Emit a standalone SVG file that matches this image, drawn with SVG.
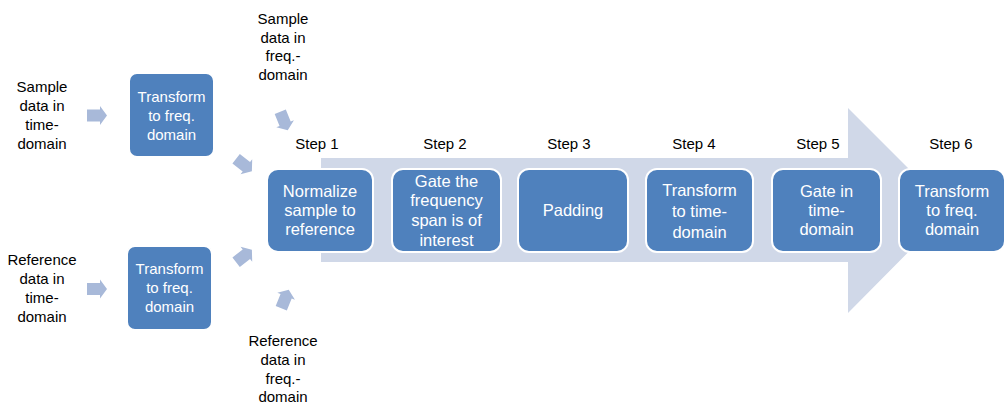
<svg xmlns="http://www.w3.org/2000/svg" width="1006" height="404" viewBox="0 0 1006 404">
<style>
.box{fill:#4F81BD;stroke:#FFFFFF;stroke-width:2}
.bt{font-family:"Liberation Sans",Arial,sans-serif;font-size:15px;fill:#FFFFFF;text-anchor:middle;dominant-baseline:central}
.st{font-size:16.5px}
.lt{font-family:"Liberation Sans",Arial,sans-serif;font-size:15px;fill:#000000;text-anchor:middle;dominant-baseline:central}
.sa{fill:#A8B9D9}
</style>
<defs>
<path id="sarrow" d="M-10,-6 L3,-6 L3,-9.5 L10,0 L3,9.5 L3,6 L-10,6 Z"/>
</defs>
<rect width="1006" height="404" fill="#FFFFFF"/>
<g id="connectors">
<path id="big-arrow" d="M321,158 L848,158 L848,108 L950,210 L848,313 L848,262 L321,262 Z" fill="#D0D8E8"/>
<use href="#sarrow" class="sa" transform="translate(97,115.5)"/>
<use href="#sarrow" class="sa" transform="translate(97,289)"/>
<use href="#sarrow" class="sa" transform="translate(284,121) rotate(68)"/>
<use href="#sarrow" class="sa" transform="translate(244,165) rotate(38)"/>
<use href="#sarrow" class="sa" transform="translate(244,256) rotate(-38)"/>
<use href="#sarrow" class="sa" transform="translate(285,299) rotate(-68)"/>
</g>
<g id="label-sample-time">
<text class="lt" x="42" y="86">Sample</text>
<text class="lt" x="42" y="105">data in</text>
<text class="lt" x="42" y="124">time-</text>
<text class="lt" x="42" y="143">domain</text>
</g>
<g id="label-ref-time">
<text class="lt" x="42" y="259">Reference</text>
<text class="lt" x="42" y="278">data in</text>
<text class="lt" x="42" y="297">time-</text>
<text class="lt" x="42" y="316">domain</text>
</g>
<g id="label-sample-freq">
<text class="lt" x="283" y="18">Sample</text>
<text class="lt" x="283" y="37">data in</text>
<text class="lt" x="283" y="55">freq.-</text>
<text class="lt" x="283" y="74">domain</text>
</g>
<g id="label-ref-freq">
<text class="lt" x="283" y="340">Reference</text>
<text class="lt" x="283" y="359">data in</text>
<text class="lt" x="283" y="378">freq.-</text>
<text class="lt" x="283" y="396">domain</text>
</g>
<g id="transform-sample">
<rect class="box" x="129" y="73" width="85" height="84" rx="8"/>
<text class="bt" x="171.5" y="96">Transform</text>
<text class="bt" x="171.5" y="115">to freq.</text>
<text class="bt" x="171.5" y="134">domain</text>
</g>
<g id="transform-ref">
<rect class="box" x="127" y="246" width="85" height="84" rx="8"/>
<text class="bt" x="169.5" y="268">Transform</text>
<text class="bt" x="169.5" y="287">to freq.</text>
<text class="bt" x="169.5" y="306">domain</text>
</g>
<g id="step1">
<text class="lt" x="317" y="143">Step 1</text>
<rect class="box" x="267" y="169" width="106" height="83" rx="11"/>
<text class="bt st" x="320" y="191">Normalize</text>
<text class="bt st" x="320" y="210">sample to</text>
<text class="bt st" x="320" y="229">reference</text>
</g>
<g id="step2">
<text class="lt" x="445" y="143">Step 2</text>
<rect class="box" x="392" y="169" width="109" height="83" rx="11"/>
<text class="bt st" x="446.5" y="181">Gate the</text>
<text class="bt st" x="446.5" y="200">frequency</text>
<text class="bt st" x="446.5" y="220">span is of</text>
<text class="bt st" x="446.5" y="240">interest</text>
</g>
<g id="step3">
<text class="lt" x="569" y="143">Step 3</text>
<rect class="box" x="518" y="169" width="110" height="83" rx="11"/>
<text class="bt st" x="573" y="210">Padding</text>
</g>
<g id="step4">
<text class="lt" x="694" y="143">Step 4</text>
<rect class="box" x="646" y="169" width="107" height="83" rx="11"/>
<text class="bt st" x="699.5" y="190">Transform</text>
<text class="bt st" x="699.5" y="211">to time-</text>
<text class="bt st" x="699.5" y="232">domain</text>
</g>
<g id="step5">
<text class="lt" x="818" y="143">Step 5</text>
<rect class="box" x="772" y="169" width="109" height="83" rx="11"/>
<text class="bt st" x="826.5" y="191">Gate in</text>
<text class="bt st" x="826.5" y="210">time-</text>
<text class="bt st" x="826.5" y="229">domain</text>
</g>
<g id="step6">
<text class="lt" x="951" y="143">Step 6</text>
<rect class="box" x="899" y="169" width="106" height="83" rx="11"/>
<text class="bt st" x="952" y="191">Transform</text>
<text class="bt st" x="952" y="210">to freq.</text>
<text class="bt st" x="952" y="229">domain</text>
</g>
</svg>
